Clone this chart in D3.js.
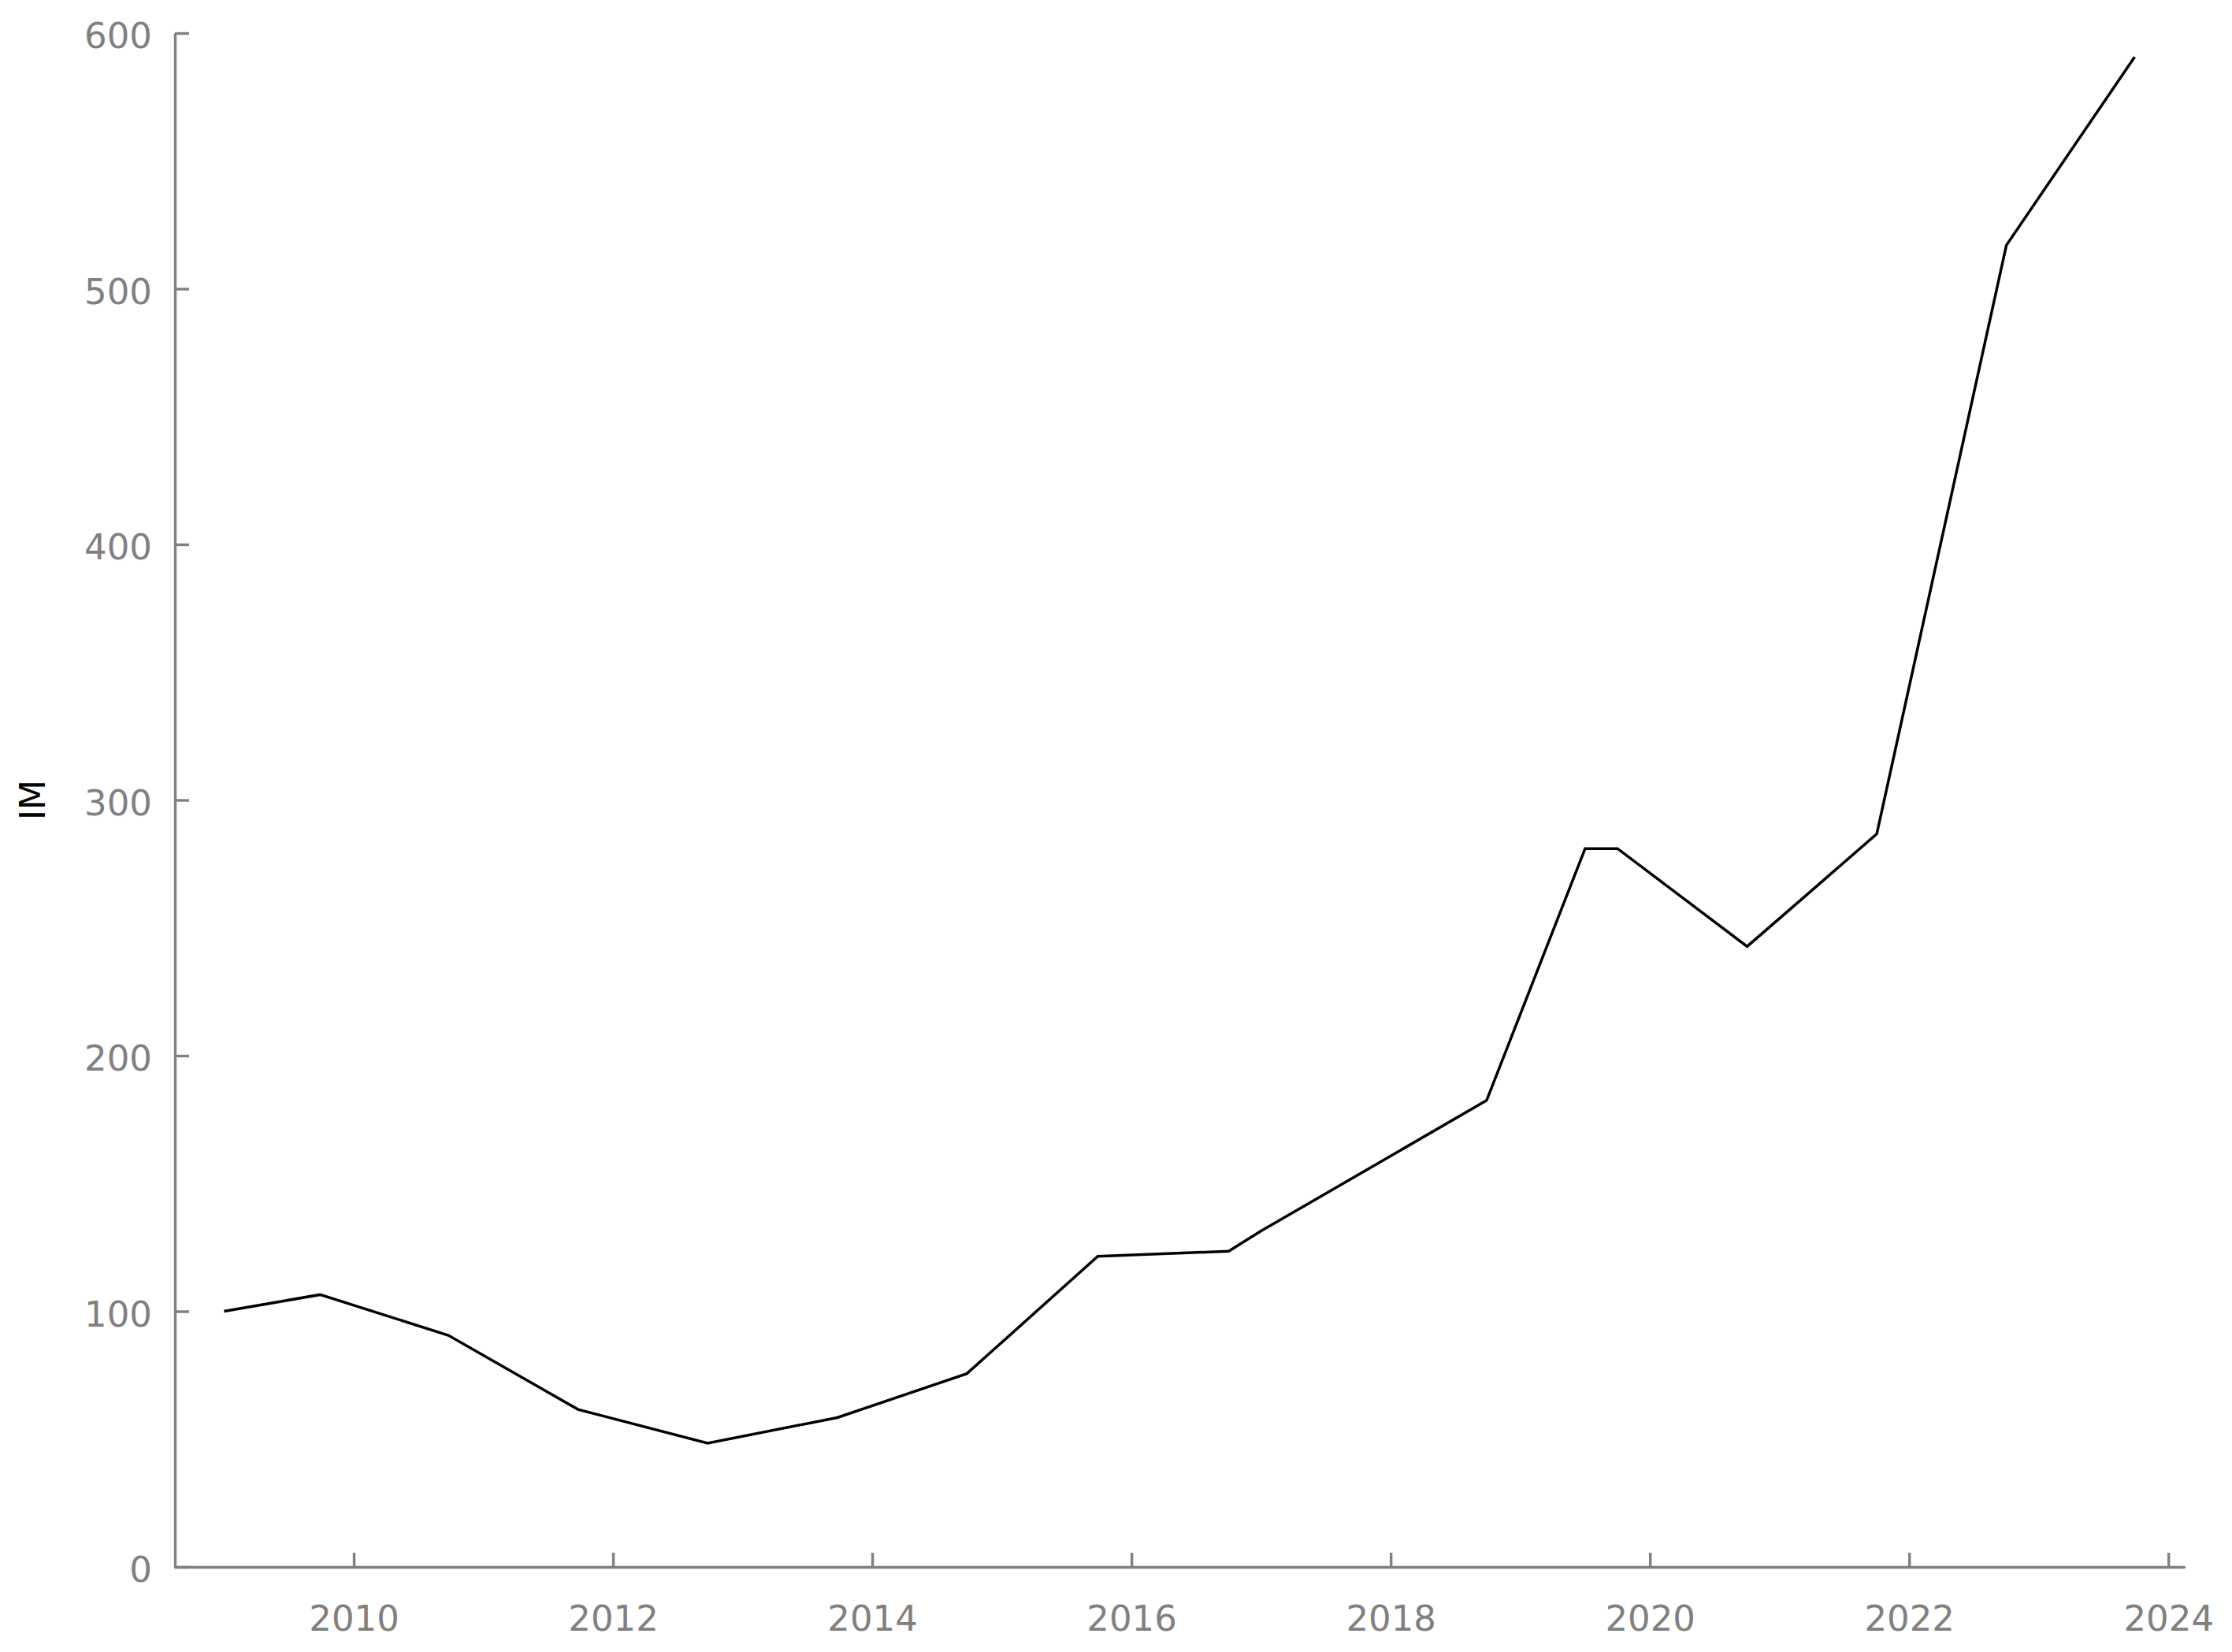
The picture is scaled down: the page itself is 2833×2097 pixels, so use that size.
<!DOCTYPE html>
<html>
<head>
<meta charset="utf-8">
<script src="https://cdn.jsdelivr.net/npm/d3@7"></script>
<style>
  body { margin: 0; background: #fff; }
  svg { display: block; }
  .axis path, .axis line { stroke: #808080; stroke-width: 3.4; }
  .axis text { fill: #808080; font-family: "DejaVu Sans", Verdana, sans-serif; font-size: 45px; }
</style>
</head>
<body>
<script>
// dates as fractional years
const years = [2009.0, 2009.74, 2010.73, 2011.73, 2012.73, 2013.73, 2014.73, 2015.74, 2016.75, 2017.0, 2018.74, 2019.5, 2019.75, 2020.75, 2021.75, 2022.75, 2023.74];
const values = [100, 106.5, 90.6, 61.6, 48.4, 58.4, 75.6, 121.5, 123.5, 131.4, 182.5, 281, 281, 242.7, 286.7, 517, 590.7];
const xTicks = [2010, 2012, 2014, 2016, 2018, 2020, 2022, 2024];
const yTicks = [0, 100, 200, 300, 400, 500, 600];

const width = 2833;
const height = 2097;
const margin = { top: 42, right: 61, bottom: 108, left: 222 };

const svg = d3.select("body")
  .append("svg")
  .attr("width", width)
  .attr("height", height);

const x = d3.scaleLinear()
  .domain([2008.62, 2024.12])
  .range([margin.left, width - margin.right]);

const y = d3.scaleLinear()
  .domain([0, 600])
  .range([height - margin.bottom, margin.top]);

// x axis, ticks pointing inward
svg.append("g")
  .attr("class", "axis")
  .attr("transform", `translate(0,${height - margin.bottom})`)
  .call(d3.axisBottom(x).tickValues(xTicks).tickFormat(d3.format("d"))
    .tickSizeInner(-18).tickSizeOuter(0).tickPadding(49))
  .call(g => g.select(".domain").attr("stroke-linecap", "round"));

// y axis
svg.append("g")
  .attr("class", "axis")
  .attr("transform", `translate(${margin.left},0)`)
  .call(d3.axisLeft(y).tickValues(yTicks)
    .tickSizeInner(-18).tickSizeOuter(0).tickPadding(29))
  .call(g => g.selectAll(".tick text").attr("dy", "0.42em"));

svg.append("text")
  .attr("transform", `translate(57,${(margin.top + height - margin.bottom) / 2}) rotate(-90)`)
  .attr("text-anchor", "middle")
  .style("font-family", "'DejaVu Sans', Verdana, sans-serif")
  .style("font-size", "44px")
  .attr("fill", "#000")
  .text("IM");

const data = years.map((yr, i) => ({ x: yr, v: values[i] }));

const line = d3.line()
  .x(d => x(d.x))
  .y(d => y(d.v));

svg.append("path")
  .datum(data)
  .attr("d", line)
  .attr("fill", "none")
  .attr("stroke", "#000")
  .attr("stroke-width", 3.5);
</script>
</body>
</html>
